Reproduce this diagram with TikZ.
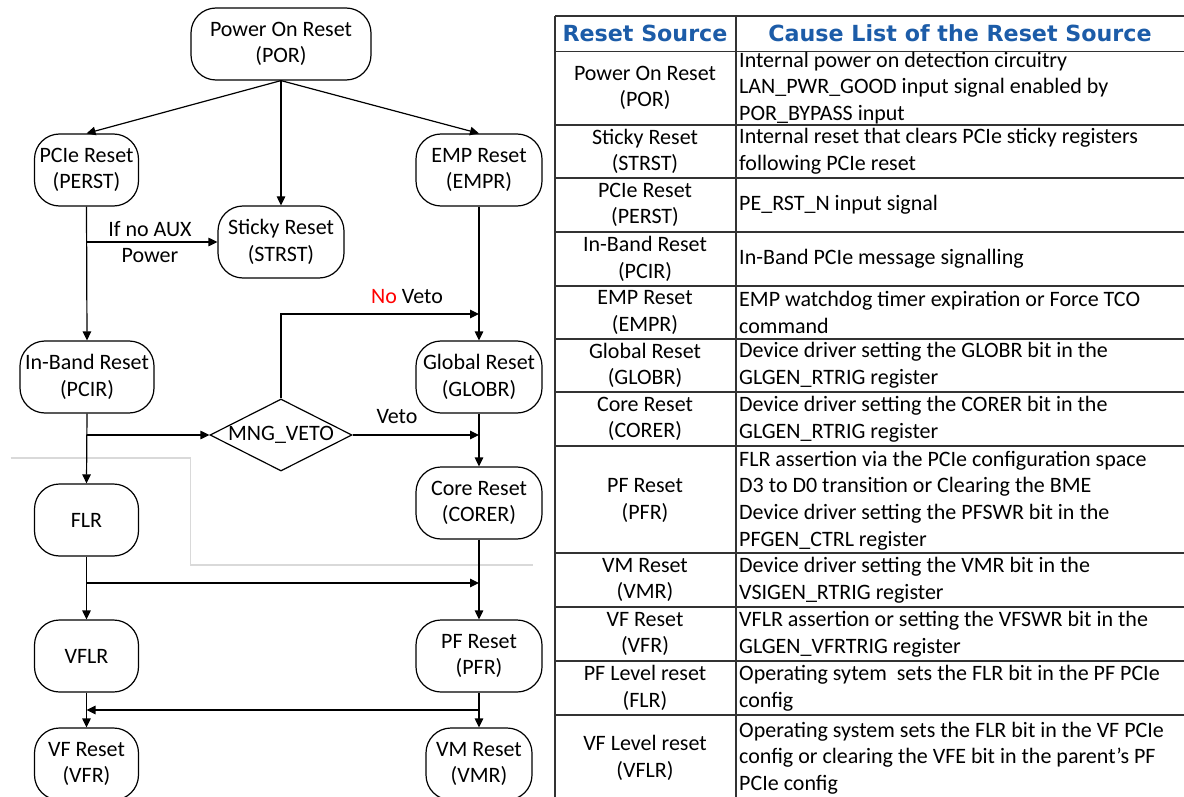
\documentclass[tikz,border=0pt]{standalone}
\usepackage{fontspec}
\setmainfont{Carlito}
\newfontfamily\headfont{DejaVu Sans}
\usetikzlibrary{shapes.geometric,arrows.meta}
\definecolor{headblue}{RGB}{28,92,168}
\definecolor{gridgrey}{RGB}{217,217,217}
\definecolor{rulegrey}{RGB}{50,50,50}

\begin{document}
\begin{tikzpicture}[x=1pt,y=-1pt,
  font=\fontsize{22}{26.7}\selectfont,
  flow/.style={draw=black, line width=1.2pt, rounded corners=25pt, minimum height=72pt, inner sep=0pt, align=center},
  veto/.style={draw=black, shape=diamond, line width=1.2pt, minimum width=142pt, minimum height=72pt, inner sep=0pt},
  link/.style={line width=1.2pt, -{Triangle[length=9pt,width=8.5pt]}},
  grid/.style={line width=1.1pt, draw=rulegrey},
  cell/.style={align=center, inner sep=0pt},
  cause/.style={align=left, anchor=west, inner sep=0pt},
  head/.style={font=\headfont\bfseries\fontsize{22.2}{26}\selectfont, text=headblue, inner sep=0pt},
  lbl/.style={inner sep=0pt}
]
\useasboundingbox (0,0) rectangle (1184,797);
\clip (0,0) rectangle (1184,797);

% faint guide line behind the flowchart
\draw[gridgrey, line width=1.5pt] (10.5,458) -- (190.5,458) -- (190.5,565) -- (533,565);

% ---------------- flowchart nodes ----------------
\node[flow, minimum width=180pt] (por)   at (281,44)  {Power On Reset\\(POR)};
\node[flow, minimum width=104pt] (perst) at (86.5,170) {PCIe Reset\\(PERST)};
\node[flow, minimum width=126pt] (strst) at (281,242) {Sticky Reset\\(STRST)};
\node[flow, minimum width=126pt] (empr)  at (479,170) {EMP Reset\\(EMPR)};
\node[flow, minimum width=134pt] (pcir)  at (87,377)  {In-Band Reset\\(PCIR)};
\node[flow, minimum width=126pt] (globr) at (479,377) {Global Reset\\(GLOBR)};
\node[veto] (mng) at (281,435) {\makebox[0pt]{MNG\_VETO}};
\node[flow, minimum width=104pt] (flr)   at (86.5,520) {FLR};
\node[flow, minimum width=126pt] (corer) at (479,503) {Core Reset\\(CORER)};
\node[flow, minimum width=104pt] (vflr)  at (86.5,656) {VFLR};
\node[flow, minimum width=126pt] (pfr)   at (479,656) {PF Reset\\(PFR)};
\node[flow, minimum width=104pt] (vfr)   at (86.5,764) {VF Reset\\(VFR)};
\node[flow, minimum width=106pt] (vmr)   at (479,764) {VM Reset\\(VMR)};

% junction points on the trunk lines
\coordinate (auxjoin)  at (86.5,242);
\coordinate (vetojoin) at (87,435);
\coordinate (nvcorner) at (281,314);
\coordinate (nvend)    at (479,314);
\coordinate (vend)     at (479,435);
\coordinate (flrjoin)  at (86.5,583);
\coordinate (pfrend)   at (479,583);
\coordinate (pfrjoin)  at (479,710);
\coordinate (vfrend)   at (86.5,710);

% ---------------- connectors ----------------
\draw[link] (por.south) -- (perst.north);
\draw[link] (por.south) -- (strst.north);
\draw[link] (por.south) -- (empr.north);
\draw[link] (perst.south) -- (pcir.north);
\draw[link] (auxjoin) -- (strst.west);
\draw[link] (empr.south) -- (globr.north);
\draw[link] (mng.north) -- (nvcorner) -- (nvend);
\draw[link] (pcir.south) -- (flr.north);
\draw[link] (vetojoin) -- (mng.west);
\draw[link] (mng.east) -- (vend);
\draw[link] (globr.south) -- (corer.north);
\draw[link] (flr.south) -- (vflr.north);
\draw[link] (flrjoin) -- (pfrend);
\draw[link] (corer.south) -- (pfr.north);
\draw[link] (vflr.south) -- (vfr.north);
\draw[link] (pfr.south) -- (vmr.north);
\draw[link] (pfrjoin) -- (vfrend);

% connector labels
\node[lbl] (auxa)   at (150,229) {If no AUX};
\node[lbl] (auxb)   at (150,256) {Power};
\node[lbl] (noveto) at (407,297) {\textcolor{red}{No} Veto};
\node[lbl] (veto)   at (397,417) {Veto};

% ---------------- table ----------------
\foreach \yy in {16,51.5,125,178,232,286,339,392,446,553,607,661,715}
  \draw[grid] (555,\yy) -- (1184,\yy);
\draw[grid] (555,16) -- (555,797);
\draw[grid] (736,16) -- (736,797);

\node[head] (h1) at (645,33) {Reset Source};
\node[head] (h2) at (960,33) {Cause List of the Reset Source};

\node[cell] (s1)  at (645,88)    {Power On Reset\\(POR)};
\node[cell] (s2)  at (645,151.5) {Sticky Reset\\(STRST)};
\node[cell] (s3)  at (645,205)   {PCIe Reset\\(PERST)};
\node[cell] (s4)  at (645,259)   {In-Band Reset\\(PCIR)};
\node[cell] (s5)  at (645,312.5) {EMP Reset\\(EMPR)};
\node[cell] (s6)  at (645,365.5) {Global Reset\\(GLOBR)};
\node[cell] (s7)  at (645,419)   {Core Reset\\(CORER)};
\node[cell] (s8)  at (645,500.5) {PF Reset\\(PFR)};
\node[cell] (s9)  at (645,580)   {VM Reset\\(VMR)};
\node[cell] (s10) at (645,634)   {VF Reset\\(VFR)};
\node[cell] (s11) at (645,688)   {PF Level reset\\(FLR)};
\node[cell] (s12) at (645,758)   {VF Level reset\\(VFLR)};

\node[cause] (c1)  at (739,88)    {Internal power on detection circuitry\\LAN\_PWR\_GOOD input signal enabled by\\POR\_BYPASS input};
\node[cause] (c2)  at (739,151.5) {Internal reset that clears PCIe sticky registers\\following PCIe reset};
\node[cause] (c3)  at (739,205)   {PE\_RST\_N input signal};
\node[cause] (c4)  at (739,259)   {In-Band PCIe message signalling};
\node[cause] (c5)  at (739,312.5) {EMP watchdog timer expiration or Force TCO\\command};
\node[cause] (c6)  at (739,365.5) {Device driver setting the GLOBR bit in the\\GLGEN\_RTRIG register};
\node[cause] (c7)  at (739,419)   {Device driver setting the CORER bit in the\\GLGEN\_RTRIG register};
\node[cause] (c8)  at (739,500.5) {FLR assertion via the PCIe configuration space\\D3 to D0 transition or Clearing the BME\\Device driver setting the PFSWR bit in the\\PFGEN\_CTRL register};
\node[cause] (c9)  at (739,580)   {Device driver setting the VMR bit in the\\VSIGEN\_RTRIG register};
\node[cause] (c10) at (739,634)   {VFLR assertion or setting the VFSWR bit in the\\GLGEN\_VFRTRIG register};
\node[cause] (c11) at (739,688)   {Operating sytem\ \ sets the FLR bit in the PF PCIe\\config};
\node[cause] (c12) at (739,758)   {Operating system sets the FLR bit in the VF PCIe\\config or clearing the VFE bit in the parent’s PF\\PCIe config};
\end{tikzpicture}
\end{document}
